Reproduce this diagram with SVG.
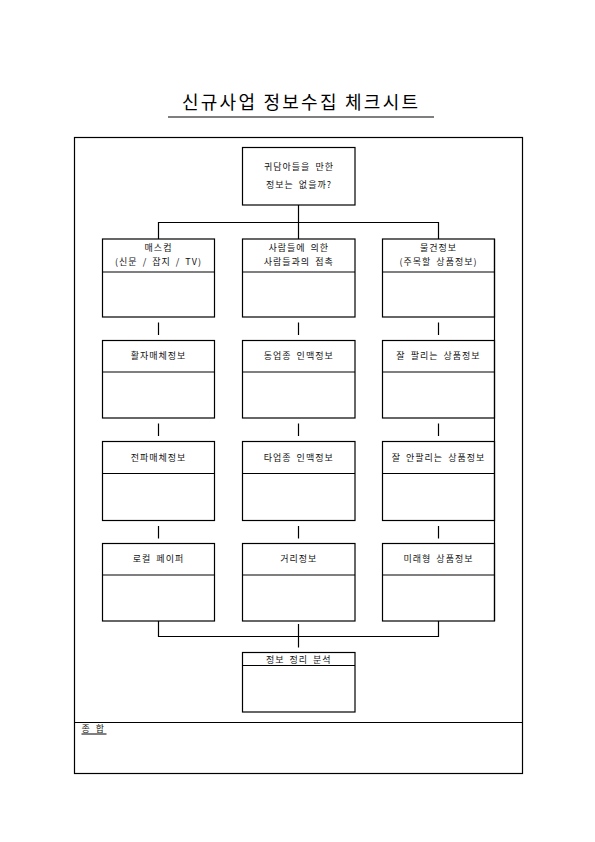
<svg xmlns="http://www.w3.org/2000/svg" width="595" height="842" viewBox="0 0 595 842">
<style>
.b{fill:none;stroke:#000;stroke-width:1.2}
.c{fill:none;stroke:#000;stroke-width:1.2}
.t{font-family:"Noto Sans CJK KR","Noto Sans",sans-serif;font-size:9px;letter-spacing:1px;word-spacing:2px;fill:#111;text-anchor:middle}
.title{font-family:"Noto Sans CJK KR","Noto Sans",sans-serif;font-size:18px;fill:#000;text-anchor:middle}
</style>
<rect width="595" height="842" fill="#fff"/>
<g id="title">
<text class="title" x="300" y="109" textLength="236" lengthAdjust="spacing">신규사업 정보수집 체크시트</text>
<line x1="168" y1="117" x2="434" y2="117" stroke="#000" stroke-width="1.2"/>
</g>
<g id="frame">
<rect class="b" x="74.5" y="137.5" width="448" height="636"/>
<line class="b" x1="74.5" y1="722.5" x2="522.5" y2="722.5"/>
</g>
<g id="connectors">
<line class="c" x1="298.5" y1="205" x2="298.5" y2="222.5"/>
<polyline class="c" points="158.5,239 158.5,222.5 438.5,222.5 438.5,239"/>
<line class="c" x1="298.5" y1="222.5" x2="298.5" y2="239"/>
<line class="c" x1="158.5" y1="322.5" x2="158.5" y2="335"/>
<line class="c" x1="298.5" y1="322.5" x2="298.5" y2="335"/>
<line class="c" x1="438.5" y1="322.5" x2="438.5" y2="335"/>
<line class="c" x1="158.5" y1="423.5" x2="158.5" y2="436"/>
<line class="c" x1="298.5" y1="423.5" x2="298.5" y2="436"/>
<line class="c" x1="438.5" y1="423.5" x2="438.5" y2="436"/>
<line class="c" x1="158.5" y1="526" x2="158.5" y2="538.5"/>
<line class="c" x1="298.5" y1="526" x2="298.5" y2="538.5"/>
<line class="c" x1="438.5" y1="526" x2="438.5" y2="538.5"/>
<line class="c" x1="494.5" y1="239" x2="494.5" y2="621"/>
<polyline class="c" points="158.5,621 158.5,636.5 438.5,636.5 438.5,621"/>
<line class="c" x1="298.5" y1="624" x2="298.5" y2="647.5"/>
</g>
<g id="n-top">
<rect class="b" x="242.5" y="147.5" width="112.5" height="57.5"/>
<text class="t" x="299" y="170">귀담아들을 만한</text>
<text class="t" x="299" y="188">정보는 없을까?</text>
</g>
<g id="n-r1c1">
<rect class="b" x="102.5" y="239" width="112" height="78"/>
<line class="b" x1="102.5" y1="272" x2="214.5" y2="272"/>
<text class="t" x="158.5" y="250.5">매스컴</text>
<text class="t" x="158.5" y="264.5">(신문 / 잡지 / TV)</text>
</g>
<g id="n-r1c2">
<rect class="b" x="242.5" y="239" width="112.5" height="78"/>
<line class="b" x1="242.5" y1="272" x2="355" y2="272"/>
<text class="t" x="298.75" y="250.5">사람들에 의한</text>
<text class="t" x="298.75" y="264.5">사람들과의 접촉</text>
</g>
<g id="n-r1c3">
<rect class="b" x="382.5" y="239" width="112" height="78"/>
<line class="b" x1="382.5" y1="272" x2="494.5" y2="272"/>
<text class="t" x="438.5" y="250.5">물건정보</text>
<text class="t" x="438.5" y="264.5">(주목할 상품정보)</text>
</g>
<g id="n-r2c1">
<rect class="b" x="102.5" y="340.5" width="112" height="77.5"/>
<line class="b" x1="102.5" y1="372" x2="214.5" y2="372"/>
<text class="t" x="158.5" y="359">활자매체정보</text>
</g>
<g id="n-r2c2">
<rect class="b" x="242.5" y="340.5" width="112.5" height="77.5"/>
<line class="b" x1="242.5" y1="372" x2="355" y2="372"/>
<text class="t" x="298.75" y="359">동업종 인맥정보</text>
</g>
<g id="n-r2c3">
<rect class="b" x="382.5" y="340.5" width="112" height="77.5"/>
<line class="b" x1="382.5" y1="372" x2="494.5" y2="372"/>
<text class="t" x="438.5" y="359">잘 팔리는 상품정보</text>
</g>
<g id="n-r3c1">
<rect class="b" x="102.5" y="441.5" width="112" height="79"/>
<line class="b" x1="102.5" y1="473.5" x2="214.5" y2="473.5"/>
<text class="t" x="158.5" y="460.5">전파매체정보</text>
</g>
<g id="n-r3c2">
<rect class="b" x="242.5" y="441.5" width="112.5" height="79"/>
<line class="b" x1="242.5" y1="473.5" x2="355" y2="473.5"/>
<text class="t" x="298.75" y="460.5">타업종 인맥정보</text>
</g>
<g id="n-r3c3">
<rect class="b" x="382.5" y="441.5" width="112" height="79"/>
<line class="b" x1="382.5" y1="473.5" x2="494.5" y2="473.5"/>
<text class="t" x="438.5" y="460.5">잘 안팔리는 상품정보</text>
</g>
<g id="n-r4c1">
<rect class="b" x="102.5" y="543.5" width="112" height="77.5"/>
<line class="b" x1="102.5" y1="575" x2="214.5" y2="575"/>
<text class="t" x="158.5" y="562">로컬 페이퍼</text>
</g>
<g id="n-r4c2">
<rect class="b" x="242.5" y="543.5" width="112.5" height="77.5"/>
<line class="b" x1="242.5" y1="575" x2="355" y2="575"/>
<text class="t" x="298.75" y="562">거리정보</text>
</g>
<g id="n-r4c3">
<rect class="b" x="382.5" y="543.5" width="112" height="77.5"/>
<line class="b" x1="382.5" y1="575" x2="494.5" y2="575"/>
<text class="t" x="438.5" y="562">미래형 상품정보</text>
</g>
<g id="n-final">
<rect class="b" x="242.5" y="652.5" width="112.5" height="59.5"/>
<line class="b" x1="242.5" y1="665.5" x2="355" y2="665.5"/>
<text class="t" x="298.75" y="662.5">정보 정리 분석</text>
</g>
<g id="summary">
<text class="t" x="81.5" y="732" style="text-anchor:start">종 합</text>
<line x1="81.5" y1="734" x2="106.5" y2="734" stroke="#000" stroke-width="1"/>
</g>
</svg>
